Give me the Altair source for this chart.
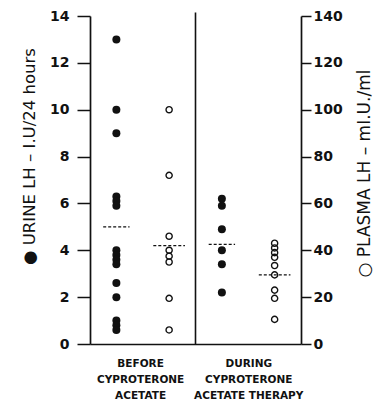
import json
import altair as alt
import pandas as pd

# ---- data ----
urine_before = [13.0, 10.0, 9.0, 6.3, 6.1, 5.9, 4.0, 3.8, 3.6, 3.4, 2.6, 2.0, 1.0, 0.8, 0.6]
urine_during = [6.2, 5.9, 4.9, 4.0, 3.4, 2.2]
plasma_before = [100, 72, 46, 40, 37.5, 35, 19.5, 6]
plasma_during = [43, 41, 39, 37, 33.5, 29.5, 23, 19.5, 10.5]
urine_means = [5.0, 4.25]
plasma_means = [42.0, 29.5]
urine_cols = [0, 2]          # column index of urine series (before, during)
plasma_cols = [1, 3]         # column index of plasma series (before, during)
group_centers = [0.45, 2.5]
divider_at = [1.5]
divider_top = [14.15]
label_before = ["BEFORE", "CYPROTERONE", "ACETATE"]
label_during = ["DURING", "CYPROTERONE", "ACETATE THERAPY"]
urine_ticks = [0, 2, 4, 6, 8, 10, 12, 14]
plasma_ticks = [0, 20, 40, 60, 80, 100, 120, 140]
left_title = "\u25cf URINE  LH \u2013 I.U/24 hours"
right_title = "\u25cb PLASMA  LH \u2013 mI.U./ml"

urine_df = pd.DataFrame(
    [{"col": urine_cols[0], "value": v} for v in urine_before]
    + [{"col": urine_cols[1], "value": v} for v in urine_during]
)
plasma_df = pd.DataFrame(
    [{"col": plasma_cols[0], "value": v} for v in plasma_before]
    + [{"col": plasma_cols[1], "value": v} for v in plasma_during]
)
urine_mean_df = pd.DataFrame({"col": urine_cols, "value": urine_means})
plasma_mean_df = pd.DataFrame({"col": plasma_cols, "value": plasma_means})
divider_df = pd.DataFrame({"col": divider_at, "lo": [0], "hi": divider_top})

FONT = "DejaVu Sans"
INK = "#111111"

label_expr = "datum.value < 1.5 ? %s : %s" % (json.dumps(label_before), json.dumps(label_during))

x_axis = alt.Axis(
    values=group_centers, labelExpr=label_expr, ticks=False, grid=False, title=None,
    domainColor=INK, domainWidth=1.7, labelFont=FONT, labelFontSize=10.5,
    labelFontWeight="bold", labelColor=INK, labelLineHeight=16, labelPadding=14,
)
x_scale = alt.Scale(domain=[-0.5, 3.5], nice=False, zero=False)
X = alt.X("col:Q", scale=x_scale, axis=x_axis)

left_axis = alt.Axis(
    orient="left", values=urine_ticks, grid=False, domainColor=INK, domainWidth=1.7,
    tickColor=INK, tickWidth=1.5, tickSize=13, labelFont=FONT, labelFontSize=14,
    labelFontWeight="bold", labelColor=INK, labelPadding=8,
    title=left_title, titleFont=FONT, titleFontSize=16.5, titleFontWeight="normal",
    titleColor=INK, titleAngle=270, titleX=-56, titleY=140, titleAlign="center",
    titleBaseline="alphabetic",
)
right_axis = alt.Axis(
    orient="right", values=plasma_ticks, grid=False, domainColor=INK, domainWidth=1.7,
    tickColor=INK, tickWidth=1.5, tickSize=10, labelFont=FONT, labelFontSize=14,
    labelFontWeight="bold", labelColor=INK, labelPadding=2,
    title=right_title, titleFont=FONT, titleFontSize=17, titleFontWeight="normal",
    titleColor=INK, titleAngle=270, titleX=68, titleY=157, titleAlign="center",
    titleBaseline="alphabetic",
)

y_left_scale = alt.Scale(domain=[0, 14], nice=False, zero=True)
y_right_scale = alt.Scale(domain=[0, 140], nice=False, zero=True)

urine_pts = alt.Chart(urine_df).mark_point(filled=True, size=64, color=INK, opacity=1).encode(
    x=X, y=alt.Y("value:Q", scale=y_left_scale, axis=left_axis)
)
urine_mean = alt.Chart(urine_mean_df).transform_calculate(
    x0="datum.col - 0.25", x1="datum.col + 0.25"
).mark_rule(color=INK, strokeWidth=1.2, strokeDash=[3, 2]).encode(
    x=alt.X("x0:Q", scale=x_scale, axis=x_axis), x2="x1:Q",
    y=alt.Y("value:Q", scale=y_left_scale, axis=left_axis),
)
divider = alt.Chart(divider_df).mark_rule(color=INK, strokeWidth=1.6).encode(
    x=X, y=alt.Y("lo:Q", scale=y_left_scale, axis=left_axis), y2="hi:Q"
)
left = alt.layer(urine_pts, urine_mean, divider)

plasma_pts = alt.Chart(plasma_df).mark_point(filled=False, size=38, color=INK, strokeWidth=1.4, opacity=1).encode(
    x=X, y=alt.Y("value:Q", scale=y_right_scale, axis=right_axis)
)
plasma_mean = alt.Chart(plasma_mean_df).transform_calculate(
    x0="datum.col - 0.3", x1="datum.col + 0.3"
).mark_rule(color=INK, strokeWidth=1.2, strokeDash=[3, 2]).encode(
    x=alt.X("x0:Q", scale=x_scale, axis=x_axis), x2="x1:Q",
    y=alt.Y("value:Q", scale=y_right_scale, axis=right_axis),
)
right = alt.layer(plasma_pts, plasma_mean)

chart = alt.layer(left, right).resolve_scale(y="independent").properties(
    width=211, height=328,
    autosize=alt.AutoSizeParams(type="none"),
    padding={"left": 90, "right": 74, "top": 16, "bottom": 55},
    background="white",
).configure_view(stroke=None)

chart.save("out.html", embed_options={"renderer": "svg", "actions": False})
